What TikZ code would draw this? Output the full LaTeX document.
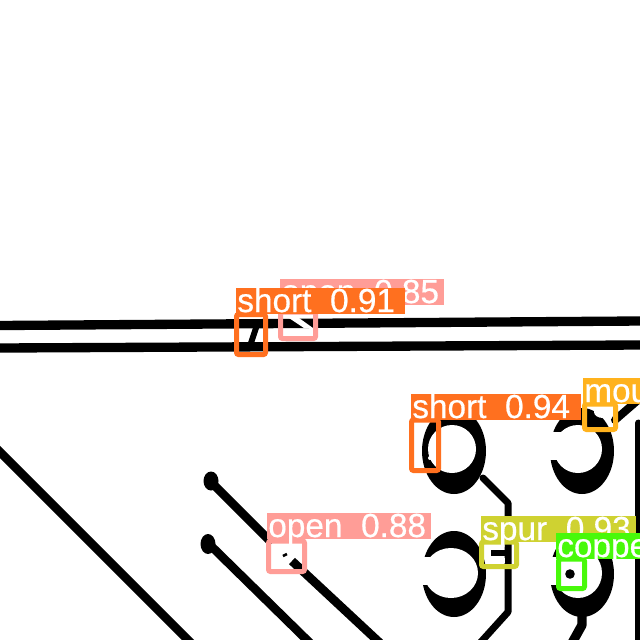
\documentclass[tikz,border=0pt]{standalone}
\usepackage{fontspec}
\setmainfont{Liberation Sans}
\newfontfamily\labfont[RawFeature={embolden=0.5}]{Liberation Sans}
\tikzset{
  px/.style={x=0.75pt,y=-0.75pt},
  trace/.style={draw=black,line width=5.25pt,line cap=round,line join=round},
  wire/.style={draw=black,line width=6.5pt,line cap=butt},
  rail/.style={draw=black,line width=7pt,line cap=butt},
  detail/.style={draw=black,line width=3.8pt,line cap=butt},
  detbox/.style={draw=#1,line width=3.75pt,rounded corners=1.5pt,fill=none},
  lab/.style={fill=#1,text=white,anchor=north west,inner sep=0pt,outer sep=0pt,align=left,text height=18pt,text depth=1.5pt,font=\labfont\fontsize{25}{25}\selectfont},
}
\definecolor{cshort}{HTML}{FF701F}
\definecolor{copen}{HTML}{FF9D97}
\definecolor{cmouse}{HTML}{FFB21D}
\definecolor{cspur}{HTML}{CFD231}
\definecolor{ccopper}{HTML}{48F90A}
\begin{document}
\begin{tikzpicture}[px]
\useasboundingbox (0,0) rectangle (640,640);
\fill[white] (0,0) rectangle (640,640);
% horizontal traces
\draw[rail] (0,325.5) -- (640,321);
\draw[rail] (0,348) -- (640,345);
% diagonals
\draw[wire] (-5,447) -- (193,645);
\draw[wire] (211,482) -- (272,543);
\draw[wire] (292,561) -- (380,643);
\draw[wire] (208,543) -- (310,643);
\fill[black] (211,481) ellipse[x radius=7.5,y radius=9.5];
\fill[black] (208,544) ellipse[x radius=7.5,y radius=10];
\draw[detail,line width=2pt] (283,556) -- (287,554);
% pads
\fill[black] (454,451) ellipse[x radius=32,y radius=43];
\fill[white] (452,449) circle[radius=24];
\fill[black] (582,451) ellipse[x radius=32,y radius=43];
\fill[white] (578,449) circle[radius=24];
\fill[white] (545,432) rectangle (578,460);
\fill[black] (454,574) ellipse[x radius=32,y radius=43];
\fill[white] (451,573) ellipse[x radius=27,y radius=25];
\fill[white] (415,557) rectangle (451,585);
\fill[black] (582,574) ellipse[x radius=32,y radius=43];
\fill[white] (578,573) ellipse[x radius=24,y radius=25];
\fill[white] (545,557) rectangle (578,585);
% pad connections
\draw[trace] (483,478) -- (508,503) -- (508,612) -- (480,643);
\draw[trace,line width=7pt,line cap=butt] (582,612) -- (582,625) -- (572,643);
\draw[trace,line width=6pt] (615,420) -- (645,394);
\draw[trace,line cap=butt] (638.5,423) -- (638.5,645);
\fill[black] (638.5,423) circle[radius=3.5];
% defect details
\draw[detail,line width=4.5pt] (257,325) -- (250,346);
\fill[white] (289,318) -- (299,318) -- (313,328) -- (304,328) -- cycle;
\fill[white] (430,458) circle[radius=2];
\fill[white] (603,412) ellipse[x radius=9,y radius=6];
\fill[white] (588,404) rectangle (612,408);
\draw[detail] (491,553) -- (507,553);
\fill[white] (486,558) rectangle (505,563);
\fill[black] (570,574) circle[radius=4.8];
% boxes and labels
\draw[detbox=copen] (280.5,312) rectangle (315.5,338.5);
\node[lab=copen,text width=123pt] (open85) at (280,279) {\hspace*{1pt}open\hspace{.56em}0.85};
\draw[detbox=cshort] (236.5,314.5) rectangle (265.5,354.5);
\node[lab=cshort,text width=126.5pt] (short91) at (236,288) {\hspace*{1pt}short\hspace{.56em}0.91};
\draw[detbox=cshort] (411.5,420) rectangle (438.5,470.5);
\node[lab=cshort,text width=127.5pt] (short94) at (411,394) {\hspace*{1pt}short\hspace{.56em}0.94};
\draw[detbox=cmouse] (584.5,404) rectangle (615.5,429.5);
\node[lab=cmouse,text width=43pt] (mouse) at (583,378) {\hspace*{1pt}mou};
\draw[detbox=copen] (268.5,541) rectangle (304.5,571.5);
\node[lab=copen,text width=123pt] (open88) at (267,513) {\hspace*{1pt}open\hspace{.56em}0.88};
\draw[detbox=cspur] (481.5,542) rectangle (516.5,566.5);
\node[lab=cspur,text width=116pt] (spur) at (481,516) {\hspace*{1pt}spur\hspace{.56em}0.93};
\draw[detbox=ccopper] (558.5,559) rectangle (584.5,588.5);
\node[lab=ccopper,text width=63pt] (copper) at (556,533) {\hspace*{1pt}coppe};
\end{tikzpicture}
\end{document}
